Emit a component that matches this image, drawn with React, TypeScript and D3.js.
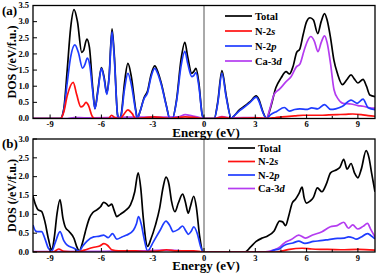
import React from "react";
import * as d3 from "d3";

type P = [number, number];

const xTicks = [-9, -6, -3, 0, 3, 6, 9];
const xMinorTicks = [-7.5, -4.5, -1.5, 1.5, 4.5, 7.5];
const yTicksA = [0, 0.5, 1, 1.5, 2, 2.5, 3, 3.5];
const yTicksB = [0, 0.5, 1, 1.5, 2, 2.5, 3];
const seriesNames = ["Total", "N-2s", "N-2p", "Ca-3d"];

const aTotal: P[] = [[-10,0],[-8.4,0],[-8.2,0.3],[-8.0,1.5],[-7.8,2.8],[-7.6,3.37],[-7.4,3.0],[-7.15,2.05],[-7.05,2.1],[-6.85,2.46],[-6.7,2.2],[-6.5,0.9],[-6.38,0.31],[-6.2,0.9],[-6.0,1.58],[-5.85,1.3],[-5.68,0.78],[-5.55,1.3],[-5.38,2.78],[-5.25,2.0],[-5.05,0.1],[-4.95,0],[-4.85,0.1],[-4.65,1.1],[-4.45,1.71],[-4.25,1.3],[-4.0,0.3],[-3.9,0],[-3.75,0.2],[-3.5,0.65],[-3.3,0.85],[-3.1,1.35],[-2.88,1.63],[-2.7,1.45],[-2.5,1.1],[-2.2,0.4],[-2.0,0],[-1.85,0],[-1.6,0.6],[-1.35,1.8],[-1.12,2.36],[-0.95,1.9],[-0.72,1.4],[-0.6,1.45],[-0.47,1.55],[-0.3,1.1],[-0.1,0.1],[0,0],[0.6,0],[0.8,0.5],[1.05,1.48],[1.3,0.7],[1.6,0],[1.7,0.05],[2.1,0.28],[2.4,0.4],[2.7,0.52],[3.05,0.7],[3.2,0.6],[3.45,0.2],[3.65,0],[3.9,0.35],[4.2,0.95],[4.5,1.25],[4.8,1.45],[5.0,1.38],[5.2,1.6],[5.42,2.05],[5.6,2.15],[5.8,2.6],[6.0,3.0],[6.2,3.12],[6.4,3.05],[6.65,2.63],[6.85,3.0],[7.05,3.25],[7.2,3.05],[7.4,2.5],[7.6,1.8],[7.8,1.4],[8.1,1.05],[8.35,1.2],[8.6,1.35],[8.8,1.22],[9.0,1.1],[9.3,1.21],[9.5,1.0],[9.7,0.73],[10,0.68]];
const aN2p: P[] = [[-10,0],[-8.4,0],[-8.2,0.25],[-8.0,1.1],[-7.8,1.9],[-7.55,2.28],[-7.35,2.05],[-7.1,1.56],[-6.98,1.65],[-6.82,1.87],[-6.68,1.65],[-6.5,0.8],[-6.38,0.3],[-6.2,0.85],[-6.0,1.55],[-5.85,1.25],[-5.68,0.75],[-5.55,1.25],[-5.38,2.68],[-5.25,1.9],[-5.05,0.1],[-4.95,0],[-4.85,0.08],[-4.65,0.9],[-4.45,1.4],[-4.25,1.05],[-4.0,0.25],[-3.9,0],[-3.75,0.2],[-3.5,0.62],[-3.3,0.8],[-3.1,1.28],[-2.88,1.55],[-2.7,1.38],[-2.5,1.05],[-2.2,0.38],[-2.0,0],[-1.85,0],[-1.6,0.55],[-1.35,1.6],[-1.12,2.08],[-0.95,1.7],[-0.72,1.3],[-0.6,1.33],[-0.47,1.42],[-0.3,1.0],[-0.1,0.1],[0,0],[0.6,0],[0.8,0.45],[1.05,1.4],[1.3,0.65],[1.6,0],[1.7,0.05],[2.1,0.25],[2.4,0.37],[2.7,0.5],[3.05,0.66],[3.2,0.55],[3.45,0.18],[3.65,0],[3.9,0.12],[4.25,0.22],[4.7,0.34],[5.0,0.23],[5.3,0.28],[5.6,0.3],[6.0,0.28],[6.3,0.33],[6.65,0.3],[7.05,0.43],[7.4,0.28],[7.7,0.3],[8.1,0.38],[8.6,0.57],[8.95,0.47],[9.3,0.6],[9.6,0.33],[10,0.27]];
const aN2s: P[] = [[-10,0],[-8.4,0],[-8.2,0.2],[-8.0,0.7],[-7.65,1.12],[-7.45,0.75],[-7.2,0.36],[-7.05,0.4],[-6.9,0.5],[-6.75,0.4],[-6.55,0.08],[-6.4,0],[-5.6,0],[-5.4,0.1],[-5.2,0.02],[-4.9,0],[-4.7,0.12],[-4.45,0.27],[-4.2,0.15],[-4.0,0],[-3.5,0.02],[-2.9,0.05],[-2.4,0.02],[-2.0,0],[-1.1,0.05],[-0.5,0.03],[0,0],[0.6,0],[1.05,0.04],[1.6,0],[3.0,0.02],[3.65,0],[4.2,0.03],[4.8,0.06],[5.3,0.08],[5.8,0.1],[6.3,0.1],[6.8,0.1],[7.3,0.11],[7.8,0.12],[8.3,0.13],[8.7,0.14],[9.2,0.12],[9.6,0.09],[10,0.07]];
const aCa3d: P[] = [[-10,0],[-8.0,0],[-7.6,0.03],[-7.0,0.02],[-5.4,0.03],[-4.4,0.04],[-2.9,0.04],[-1.5,0.05],[-1.1,0.12],[-0.7,0.08],[-0.3,0.04],[0,0],[0.6,0],[1.05,0.06],[1.6,0.02],[3.0,0.03],[3.65,0],[3.85,0.3],[4.1,0.75],[4.4,0.9],[4.8,1.14],[5.1,1.3],[5.4,1.6],[5.6,1.68],[5.85,2.1],[6.05,2.4],[6.25,2.54],[6.45,2.4],[6.67,2.07],[6.85,2.35],[7.05,2.56],[7.2,2.35],[7.4,1.7],[7.6,0.9],[7.85,0.6],[8.13,0.47],[8.6,0.45],[9.0,0.4],[9.3,0.38],[9.7,0.33],[10,0.32]];

const bTotal: P[] = [[-10,1.48],[-9.85,1.25],[-9.7,1.12],[-9.5,1.08],[-9.3,0.8],[-9.1,0.35],[-8.9,0.05],[-8.75,0.4],[-8.6,1.0],[-8.42,1.39],[-8.25,0.9],[-8.1,0.65],[-7.9,0.55],[-7.6,0.36],[-7.45,0.15],[-7.3,0.03],[-7.1,0.25],[-6.94,0.54],[-6.7,0.9],[-6.5,1.05],[-6.26,1.12],[-6.05,1.2],[-5.87,1.32],[-5.7,1.28],[-5.58,1.22],[-5.4,1.27],[-5.25,1.1],[-5.1,0.94],[-4.9,1.0],[-4.6,1.1],[-4.3,1.25],[-4.05,1.6],[-3.85,2.1],[-3.7,1.7],[-3.55,0.9],[-3.3,0.15],[-3.1,0.35],[-2.85,0.7],[-2.6,1.15],[-2.4,1.7],[-2.22,1.99],[-2.05,1.8],[-1.9,1.35],[-1.7,1.07],[-1.5,1.3],[-1.25,1.54],[-1.1,1.35],[-0.92,1.03],[-0.8,1.2],[-0.6,1.48],[-0.45,1.2],[-0.25,0.4],[-0.05,0],[0,0],[2.4,0],[2.7,0.12],[3.05,0.28],[3.4,0.37],[3.7,0.42],[4.1,0.56],[4.42,0.82],[4.6,0.8],[4.77,0.7],[4.95,0.95],[5.16,1.3],[5.35,1.4],[5.55,1.55],[5.74,1.72],[5.85,1.45],[6.0,1.3],[6.2,1.35],[6.4,1.45],[6.63,1.7],[6.9,1.6],[7.15,1.8],[7.4,2.1],[7.78,2.19],[7.95,2.25],[8.17,2.46],[8.37,2.2],[8.6,2.35],[8.8,2.1],[9.0,1.97],[9.2,2.2],[9.48,2.69],[9.65,2.5],[9.8,2.1],[10,1.6]];
const bN2p: P[] = [[-10,0.72],[-9.85,0.56],[-9.7,0.54],[-9.5,0.54],[-9.3,0.35],[-9.1,0.1],[-8.9,0.03],[-8.7,0.25],[-8.42,0.54],[-8.2,0.3],[-8.0,0.18],[-7.6,0.1],[-7.3,0.02],[-7.1,0.15],[-6.84,0.29],[-6.45,0.4],[-6.1,0.42],[-5.87,0.45],[-5.6,0.38],[-5.35,0.49],[-5.1,0.34],[-4.8,0.4],[-4.52,0.45],[-4.13,0.58],[-3.95,0.75],[-3.83,0.94],[-3.65,0.7],[-3.5,0.35],[-3.3,0.03],[-2.96,0.27],[-2.6,0.55],[-2.22,0.82],[-2.0,0.7],[-1.8,0.54],[-1.5,0.6],[-1.25,0.69],[-1.05,0.55],[-0.92,0.47],[-0.75,0.55],[-0.6,0.67],[-0.4,0.5],[-0.2,0.15],[-0.05,0],[0,0],[3.8,0],[4.1,0.05],[4.4,0.08],[4.6,0.15],[4.8,0.2],[5.2,0.24],[5.54,0.29],[5.9,0.23],[6.4,0.28],[6.8,0.3],[7.3,0.33],[7.8,0.36],[8.2,0.37],[8.45,0.4],[8.7,0.38],[8.9,0.34],[9.2,0.4],[9.56,0.49],[9.75,0.44],[10,0.35]];
const bN2s: P[] = [[-10,0],[-8.8,0],[-8.5,0.08],[-8.2,0.02],[-7.4,0],[-7.0,0.05],[-6.5,0.12],[-6.1,0.16],[-5.85,0.22],[-5.65,0.18],[-5.4,0.06],[-5.0,0.03],[-4.0,0.03],[-3.4,0.01],[-2.6,0.03],[-2.2,0.06],[-1.6,0.03],[-0.6,0.03],[0,0],[4.2,0],[4.6,0.03],[5.0,0.07],[5.74,0.1],[6.3,0.08],[7.0,0.07],[8.0,0.06],[9.0,0.07],[10,0.05]];
const bCa3d: P[] = [[-10,0.01],[-5.8,0.02],[-3.8,0.03],[-2.2,0.05],[-1.2,0.03],[0,0],[3.4,0],[3.8,0.02],[4.1,0.06],[4.42,0.13],[4.6,0.2],[4.8,0.27],[5.1,0.33],[5.54,0.45],[5.93,0.37],[6.35,0.45],[6.9,0.54],[7.39,0.67],[7.78,0.7],[8.17,0.79],[8.45,0.63],[8.7,0.72],[8.99,0.61],[9.3,0.68],[9.56,0.76],[9.75,0.6],[10,0.4]];

const colors = { total: "#000000", s: "#ff1010", p: "#1f3cff", d: "#b43cf0" };
const FONT = "'Liberation Serif', 'Times New Roman', serif";

const X0 = 33, X1 = 375;
const x = d3.scaleLinear().domain([-10, 10]).range([X0, X1]);

interface PanelProps {
  id: string;
  label: string;
  top: number;
  bottom: number;
  yMax: number;
  yTicks: number[];
  total: P[]; s: P[]; p: P[]; d: P[];
  legendX: number; legendY: number; legendDy: number;
}

function Panel(props: PanelProps) {
  const { id, label, top, bottom, yMax, yTicks, total, s, p, d, legendX, legendY, legendDy } = props;
  const y = d3.scaleLinear().domain([0, yMax]).range([bottom, top]);
  const line = d3.line<P>().x((v) => x(v[0])).y((v) => y(v[1])).curve(d3.curveMonotoneX);
  const series: { data: P[]; color: string }[] = [
    { data: total, color: colors.total },
    { data: d, color: colors.d },
    { data: p, color: colors.p },
    { data: s, color: colors.s },
  ];
  const legendColors = [colors.total, colors.s, colors.p, colors.d];
  const midY = (top + bottom) / 2;
  return (
    <g>
      <defs>
        <clipPath id={"clip" + id}>
          <rect x={X0} y={top} width={X1 - X0} height={bottom - top} />
        </clipPath>
      </defs>
      <line x1={x(0)} x2={x(0)} y1={top} y2={bottom} stroke="#555" strokeWidth={1} />
      <g clipPath={`url(#clip${id})`}>
        {series.map((sr, i) => (
          <path key={i} d={line(sr.data) || ""} fill="none" stroke={sr.color} strokeWidth={1.7} strokeLinejoin="round" />
        ))}
      </g>
      <rect x={X0} y={top} width={X1 - X0} height={bottom - top} fill="none" stroke="#000" strokeWidth={1.3} />
      {xTicks.map((t) => (
        <g key={"xt" + t}>
          <line x1={x(t)} x2={x(t)} y1={bottom} y2={bottom - 4} stroke="#000" strokeWidth={1} />
          <text x={x(t)} y={bottom + 8.5} fontSize={8.5} fontWeight="bold" fontFamily={FONT} textAnchor="middle">{t}</text>
        </g>
      ))}
      {xMinorTicks.map((t) => (
        <line key={"xm" + t} x1={x(t)} x2={x(t)} y1={bottom} y2={bottom - 2.5} stroke="#000" strokeWidth={1} />
      ))}
      {yTicks.map((t) => (
        <g key={"yt" + t}>
          <line x1={X0} x2={X0 + 4} y1={y(t)} y2={y(t)} stroke="#000" strokeWidth={1} />
          <text x={X0 - 4} y={y(t) + 2.8} fontSize={8.5} fontWeight="bold" fontFamily={FONT} textAnchor="end">{t.toFixed(1)}</text>
        </g>
      ))}
      <text x={2} y={top + 9} fontSize={13} fontWeight="bold" fontFamily={FONT}>{label}</text>
      <text transform={`translate(16,${midY}) rotate(-90)`} fontSize={12} fontWeight="bold" fontFamily={FONT} textAnchor="middle">DOS (/eV/f.u.)</text>
      <text x={(X0 + X1) / 2 + 2} y={bottom + 18} fontSize={13} fontWeight="bold" fontFamily={FONT} textAnchor="middle">Energy (eV)</text>
      {seriesNames.map((n, i) => {
        const ly = legendY + i * legendDy;
        const parts = n.split(/(?=[spd]$)/);
        return (
          <g key={n}>
            <line x1={legendX} x2={legendX + 27} y1={ly} y2={ly} stroke={legendColors[i]} strokeWidth={1.7} />
            <text x={legendX + 30} y={ly + 3.5} fontSize={10.5} fontWeight="bold" fontFamily={FONT}>
              {i === 0 ? n : (<>{parts[0]}<tspan fontStyle="italic">{parts[1]}</tspan></>)}
            </text>
          </g>
        );
      })}
    </g>
  );
}

export default function App() {
  return (
    <svg width={378} height={275} style={{ position: "absolute", left: 0, top: 0, background: "#fff" }}>
      <rect width={378} height={275} fill="#fff" />
      <Panel id="a" label="(a)" top={5.5} bottom={118.5} yMax={3.5} yTicks={yTicksA}
        total={aTotal} s={aN2s} p={aN2p} d={aCa3d} legendX={225} legendY={16} legendDy={15} />
      <Panel id="b" label="(b)" top={139} bottom={252} yMax={3} yTicks={yTicksB}
        total={bTotal} s={bN2s} p={bN2p} d={bCa3d} legendX={228} legendY={148} legendDy={13.5} />
    </svg>
  );
}
